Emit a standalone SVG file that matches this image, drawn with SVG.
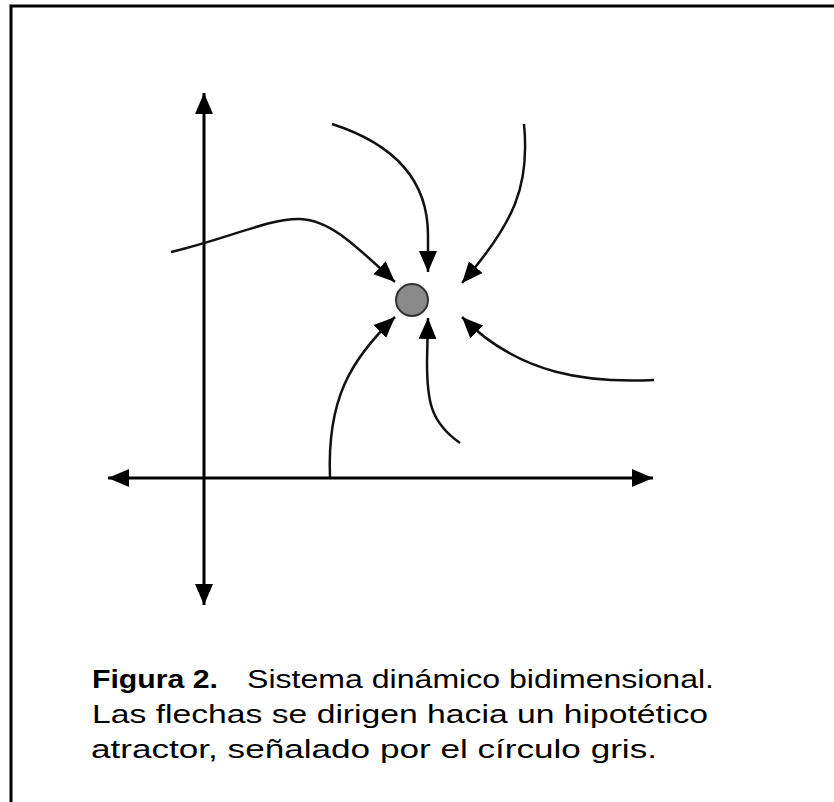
<svg xmlns="http://www.w3.org/2000/svg" width="834" height="802" viewBox="0 0 834 802">
<defs>
<style>
.axis{fill:none;stroke:#000;stroke-width:3}
.flow{fill:none;stroke:#111;stroke-width:2.5}
.cap{font-family:"Liberation Sans",Arial,sans-serif;font-size:26px;fill:#000}
</style>
<marker id="ah" markerUnits="userSpaceOnUse" markerWidth="22" markerHeight="20" viewBox="0 0 22 20" refX="21" refY="10" orient="auto-start-reverse">
<path d="M0,1 L21,10 L0,19 z" fill="#000"/>
</marker>
</defs>
<rect width="834" height="802" fill="#fff"/>
<path d="M11,802 L11,6 L834,6" fill="none" stroke="#000" stroke-width="3"/>
<g id="connectors">
<line class="axis" x1="204" y1="605" x2="204" y2="93" marker-start="url(#ah)" marker-end="url(#ah)"/>
<line class="axis" x1="108" y1="478" x2="653" y2="478" marker-start="url(#ah)" marker-end="url(#ah)"/>
<path class="flow" d="M332,124 C388,142 428,176 428,235 L428,272" marker-end="url(#ah)"/>
<path class="flow" d="M524,124 C530,185 515,222 462,283" marker-end="url(#ah)"/>
<path class="flow" d="M171,252 C230,238 270,218 300,219 C330,220 355,245 395,282" marker-end="url(#ah)"/>
<path class="flow" d="M330,477 C327,400 350,360 395,317" marker-end="url(#ah)"/>
<path class="flow" d="M460,443 C430,422 427,400 427,362 L428,318" marker-end="url(#ah)"/>
<path class="flow" d="M654,380 C590,383 520,376 462,317" marker-end="url(#ah)"/>
</g>
<g id="attractor">
<circle cx="412" cy="300" r="16" fill="#8a8a8a" stroke="#333" stroke-width="2"/>
</g>
<g id="caption">
<text class="cap" x="92" y="688" font-weight="bold" textLength="126" lengthAdjust="spacingAndGlyphs">Figura 2.</text>
<text class="cap" x="247" y="688" textLength="467" lengthAdjust="spacingAndGlyphs">Sistema dinámico bidimensional.</text>
<text class="cap" x="92" y="723" textLength="616" lengthAdjust="spacingAndGlyphs">Las flechas se dirigen hacia un hipotético</text>
<text class="cap" x="91" y="758" textLength="566" lengthAdjust="spacingAndGlyphs">atractor, señalado por el círculo gris.</text>
</g>
</svg>
